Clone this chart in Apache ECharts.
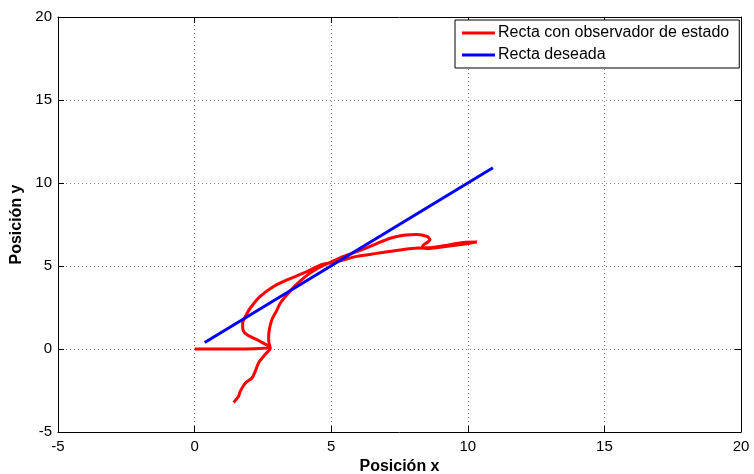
<!DOCTYPE html>
<html>
<head>
<meta charset="utf-8">
<script src="https://cdn.jsdelivr.net/npm/echarts@6/dist/echarts.min.js"></script>
<style>html,body{margin:0;padding:0;background:#fff}#c{width:754px;height:474px}</style>
</head>
<body>
<div id="c"></div>
<script>
// Data
const seriesNames = ['Recta con observador de estado', 'Recta deseada'];
const xTickRange = [-5, 20, 5];
const yTickRange = [-5, 20, 5];
// Red trajectory (x, y) pairs
const redX = [1.43,1.61,1.67,1.86,2.10,2.22,2.34,2.52,2.69,2.77,
  2.72,2.71,2.75,2.85,3.00,3.14,3.50,3.87,4.25,4.60,5.00,5.45,6.18,6.67,7.16,7.65,8.14,8.50,8.62,8.50,8.35,8.35,8.70,9.11,9.84,10.33,9.97,9.11,8.62,8.20,
  7.40,6.67,5.94,5.40,5.00,4.60,4.00,3.38,2.89,2.40,2.04,1.86,1.76,1.77,1.92,2.40,2.77,2.20,0.00];
const redY = [-3.22,-2.85,-2.55,-2.05,-1.75,-1.35,-0.84,-0.45,-0.14,0.03,
  0.40,0.76,1.30,1.85,2.30,2.77,3.50,4.10,4.60,4.95,5.25,5.58,6.02,6.35,6.67,6.85,6.90,6.78,6.60,6.40,6.22,6.10,6.12,6.22,6.42,6.44,6.34,6.16,6.06,6.08,
  5.94,5.76,5.58,5.35,5.20,5.05,4.58,4.17,3.77,3.17,2.47,1.96,1.57,1.16,0.86,0.46,0.10,0.02,0.00];
// Blue desired line
const blueX = [0.37, 10.92];
const blueY = [0.39, 10.92];

const zip = (xs, ys) => xs.map((x, i) => [x, ys[i]]);

const chart = echarts.init(document.getElementById('c'), null, {renderer: 'canvas'});
const font = 'Liberation Sans, Arial, Helvetica, sans-serif';
const gridLine = {show: true, lineStyle: {color: '#808080', type: [1, 3], width: 1}};
const mkX = (pos, showLabels) => ({
  type: 'value', position: pos, min: xTickRange[0], max: xTickRange[1], interval: xTickRange[2],
  axisLine: {show: true, onZero: false, lineStyle: {color: '#000', width: 1}},
  axisTick: {show: true, inside: true, length: 6, lineStyle: {color: '#000'}},
  axisLabel: {show: showLabels, color: '#000', fontSize: 15, fontFamily: font, margin: 7},
  splitLine: showLabels ? gridLine : {show: false},
  name: showLabels ? 'Posición x' : '', nameLocation: 'middle', nameGap: 24,
  nameTextStyle: {color: '#000', fontSize: 16, fontWeight: 'bold', fontFamily: font}
});
const mkY = (pos, showLabels) => ({
  type: 'value', position: pos, min: yTickRange[0], max: yTickRange[1], interval: yTickRange[2],
  axisLine: {show: true, onZero: false, lineStyle: {color: '#000', width: 1}},
  axisTick: {show: true, inside: true, length: 6, lineStyle: {color: '#000'}},
  axisLabel: {show: showLabels, color: '#000', fontSize: 15, fontFamily: font, margin: 6},
  splitLine: showLabels ? gridLine : {show: false},
  name: showLabels ? 'Posición y' : '', nameLocation: 'middle', nameGap: 29,
  nameTextStyle: {color: '#000', fontSize: 16, fontWeight: 'bold', fontFamily: font}
});

chart.setOption({
  animation: false,
  backgroundColor: '#fff',
  grid: {left: 58, right: 13, top: 17, bottom: 42, containLabel: false, outerBoundsMode: 'none'},
  xAxis: [mkX('bottom', true), mkX('top', false)],
  yAxis: [mkY('left', true), mkY('right', false)],
  legend: {
    left: 455, top: 20, orient: 'vertical',
    itemWidth: 33, itemHeight: 3, itemGap: 6,
    backgroundColor: '#fff', borderColor: '#000', borderWidth: 1, borderRadius: 0,
    padding: [5, 10, 5, 7],
    textStyle: {color: '#000', fontSize: 16, fontFamily: font, padding: [0, 0, 0, -2]},
    data: [{name: seriesNames[0], icon: 'rect'}, {name: seriesNames[1], icon: 'rect'}]
  },
  series: [
    {name: seriesNames[0], type: 'line', xAxisIndex: 0, yAxisIndex: 0, data: zip(redX, redY),
     showSymbol: false, symbol: 'none', smooth: 0.25, color: '#ff0000', lineStyle: {color: '#ff0000', width: 3}},
    {name: seriesNames[1], type: 'line', xAxisIndex: 0, yAxisIndex: 0, data: zip(blueX, blueY),
     showSymbol: false, symbol: 'none', color: '#0000ff', lineStyle: {color: '#0000ff', width: 3}}
  ]
});
</script>
</body>
</html>
